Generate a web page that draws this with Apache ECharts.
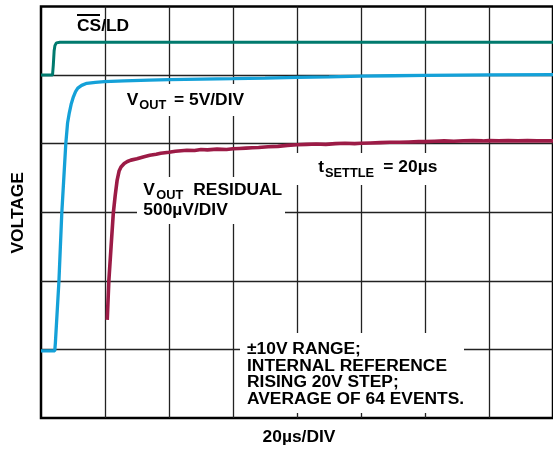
<!DOCTYPE html>
<html><head><meta charset="utf-8">
<script src="https://cdn.jsdelivr.net/npm/echarts@6/dist/echarts.min.js"></script>
<style>html,body{margin:0;padding:0;background:#fff}#c{width:553px;height:450px}</style>
</head><body><div id="c"></div>
<script>
// time in µs (20 µs/div), voltage in divisions (6 divisions tall)
const xMin = 0, xMax = 160, xStep = 20;
const yMin = 0, yMax = 6, yStep = 1;

const csldT = [0, 3.6, 3.85, 4.1, 4.35, 4.8, 5.9, 160];
const csldV = [5.0, 5.0, 5.15, 5.35, 5.43, 5.47, 5.48, 5.48];

const voutT = [0, 4.3, 4.5, 5.6, 6.5, 7.75, 8.3, 8.85, 9.4, 10.1, 10.8, 11.5, 12.7, 14.3, 17, 19.8, 26, 33.8, 40, 50, 60, 70, 80, 90, 100, 110, 120, 140, 160];
const voutV = [0.98, 0.98, 1.1, 1.99, 2.99, 4.0, 4.3, 4.45, 4.57, 4.68, 4.76, 4.81, 4.85, 4.88, 4.895, 4.905, 4.915, 4.927, 4.934, 4.942, 4.949, 4.957, 4.966, 4.975, 4.985, 4.99, 4.995, 5.003, 5.007];

const resT = [20.7, 21.2, 21.9, 22.6, 23.2, 23.8, 24.4, 25.0, 26.0, 27.0, 28.1, 30, 32.2, 34, 36, 37.4, 40, 42, 45.6, 48, 50, 52, 55, 58, 60, 62, 64, 66, 68, 71, 74, 77, 80, 83, 86, 89, 92, 95, 98, 100, 103, 106, 109, 112, 115, 118, 120, 123, 126, 129, 132, 135, 138, 140, 143, 146, 149, 152, 155, 158, 160];
const resV = [1.43, 2.0, 2.5, 2.99, 3.25, 3.47, 3.6, 3.66, 3.71, 3.74, 3.76, 3.78, 3.81, 3.83, 3.845, 3.86, 3.875, 3.89, 3.905, 3.9, 3.915, 3.91, 3.92, 3.915, 3.925, 3.93, 3.935, 3.94, 3.945, 3.955, 3.96, 3.975, 3.985, 3.99, 3.995, 3.99, 4.0, 4.005, 4.0, 4.005, 4.01, 4.015, 4.02, 4.02, 4.025, 4.03, 4.03, 4.035, 4.04, 4.035, 4.04, 4.045, 4.04, 4.045, 4.04, 4.045, 4.04, 4.045, 4.04, 4.04, 4.04];

const zip = (a, b) => a.map((v, i) => [v, b[i]]);
const F = '"Liberation Sans", Arial, Helvetica, sans-serif';
const big = 'bold 17.4px ' + F;
const sub = 'bold 12.8px ' + F;

function txt(x, y, text, font, align) {
  return { type: 'text', x: x, y: y, z: 5,
    style: { text: text, font: font || big, fill: '#000', align: align || 'left', verticalAlign: 'middle' } };
}
function box(x, y, w, h) {
  return { type: 'rect', z: 1, shape: { x: x, y: y, width: w, height: h }, style: { fill: '#fff' } };
}

const chart = echarts.init(document.getElementById('c'), null, { renderer: 'canvas' });
chart.setOption({
  animation: false,
  backgroundColor: '#fff',
  grid: { left: 41, top: 6.5, width: 516, height: 411.5, show: true, borderColor: '#000', borderWidth: 2.5, backgroundColor: 'transparent' },
  xAxis: { type: 'value', min: xMin, max: xMax, interval: xStep,
    axisLine: { show: false }, axisTick: { show: false }, axisLabel: { show: false },
    splitLine: { show: true, showMinLine: false, showMaxLine: false, lineStyle: { color: '#222', width: 1.3 } } },
  yAxis: { type: 'value', min: yMin, max: yMax, interval: yStep,
    axisLine: { show: false }, axisTick: { show: false }, axisLabel: { show: false },
    splitLine: { show: true, showMinLine: false, showMaxLine: false, lineStyle: { color: '#222', width: 1.3 } } },
  series: [
    { type: 'line', data: zip(csldT, csldV), showSymbol: false, z: 3, lineStyle: { color: '#007a6e', width: 3 } },
    { type: 'line', data: zip(voutT, voutV), showSymbol: false, z: 3, lineStyle: { color: '#14a1d8', width: 3.3 } },
    { type: 'line', data: zip(resT, resV), showSymbol: false, z: 3, lineStyle: { color: '#9c1b46', width: 3.6 } }
  ],
  graphic: [
    box(120, 84, 126, 32),
    box(137, 177, 148, 47),
    box(290, 153, 157, 32),
    box(240, 333, 224, 80),
    txt(77, 26.5, 'CS/LD'),
    { type: 'line', z: 5, shape: { x1: 77, y1: 15, x2: 100, y2: 15 }, style: { stroke: '#000', lineWidth: 2 } },
    txt(126.7, 100, 'V'), txt(139.3, 105.5, 'OUT', sub), txt(174, 100, '= 5V/DIV'),
    txt(143.3, 190, 'V'), txt(156.3, 195.5, 'OUT', sub), txt(193.3, 190, 'RESIDUAL'),
    txt(143.3, 210, '500µV/DIV'),
    txt(318.3, 167.5, 't'), txt(325, 173, 'SETTLE', sub), txt(383.3, 167.5, '= 20µs'),
    txt(247, 349, '±10V RANGE;'),
    txt(247, 366, 'INTERNAL REFERENCE'),
    txt(247, 382.5, 'RISING 20V STEP;'),
    txt(247, 399, 'AVERAGE OF 64 EVENTS.'),
    txt(299, 437, '20µs/DIV', big, 'center'),
    { type: 'text', x: 18.3, y: 212.8, rotation: Math.PI / 2, z: 5,
      style: { text: 'VOLTAGE', font: big, fill: '#000', align: 'center', verticalAlign: 'middle' } }
  ]
});
</script>
</body></html>
